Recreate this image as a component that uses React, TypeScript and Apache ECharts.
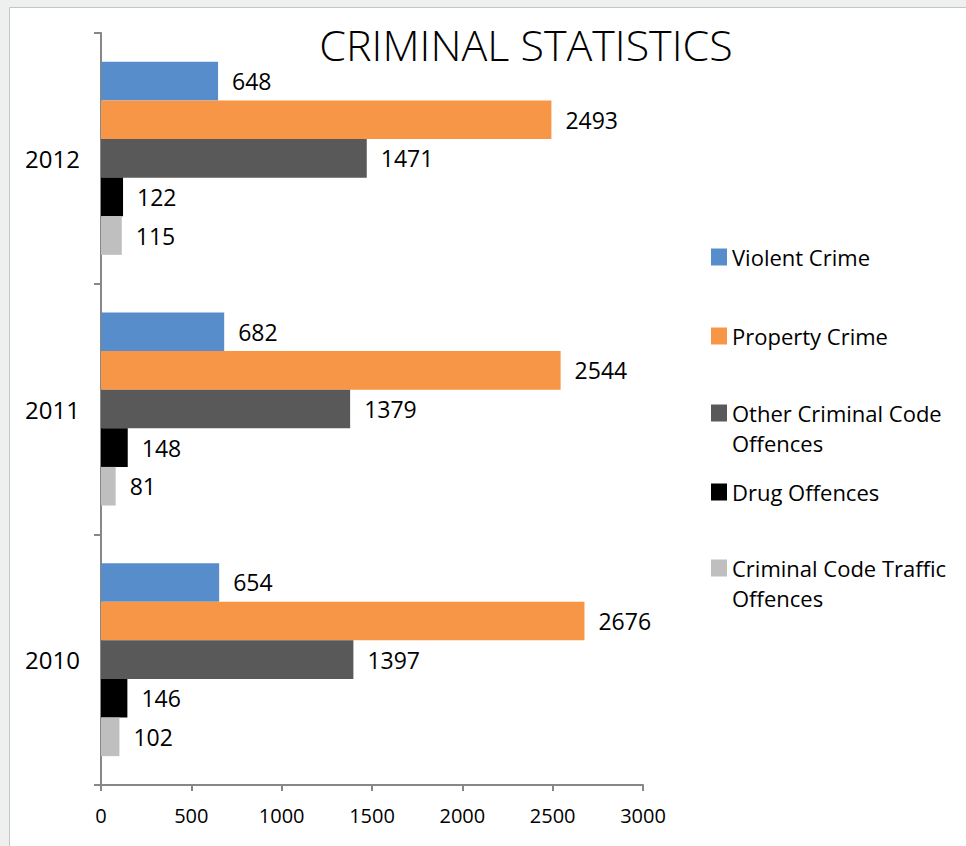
import React, { useEffect, useRef } from "react";
import * as echarts from "echarts";

const years = ["2010", "2011", "2012"];
const seriesNames = [
  "Violent Crime",
  "Property Crime",
  "Other Criminal Code Offences",
  "Drug Offences",
  "Criminal Code Traffic Offences",
];
const legendLabels = [
  "Violent Crime",
  "Property Crime",
  "\nOther Criminal Code\nOffences",
  "Drug Offences",
  "\nCriminal Code Traffic\nOffences",
];
const violentCrime = [654, 682, 648];
const propertyCrime = [2676, 2544, 2493];
const otherCriminal = [1397, 1379, 1471];
const drugOffences = [146, 148, 122];
const trafficOffences = [102, 81, 115];
const xTicks = [0, 500, 1000, 1500, 2000, 2500, 3000];

const colors = ["#588dcb", "#f79646", "#595959", "#000000", "#bfbfbf"];
const values = [violentCrime, propertyCrime, otherCriminal, drugOffences, trafficOffences];
const legendTops = [242, 321, 368, 477, 523];

const FONT = "'Open Sans', 'Noto Sans', sans-serif";

export default function App() {
  const ref = useRef<HTMLDivElement>(null);
  useEffect(() => {
    if (!ref.current) return;
    const chart = echarts.init(ref.current, undefined, { renderer: "svg" });
    const option: any = {
      animation: false,
      backgroundColor: "#eef0ef",
      title: {
        text: "CRIMINAL STATISTICS",
        left: 521,
        textAlign: "center",
        top: 18,
        textStyle: { fontFamily: FONT, fontSize: 43, fontWeight: 300, color: "#000" },
      },
      graphic: [
        {
          type: "rect",
          shape: { x: 9.5, y: 7.5, width: 980, height: 860 },
          style: { fill: "#ffffff", stroke: "#c4c6c5", lineWidth: 1 },
          z: -10,
        },
      ],
      legend: seriesNames.map((name, i) => ({
        orient: "vertical",
        left: 711,
        top: legendTops[i],
        padding: 0,
        itemGap: 0,
        itemWidth: 16,
        itemHeight: 17,
        icon: "rect",
        selectedMode: false,
        data: [name],
        formatter: () => legendLabels[i],
        textStyle: {
          fontFamily: FONT,
          fontSize: 22,
          lineHeight: 30,
          color: "#000",
        },
      })),
      grid: { left: 101, right: 323, top: 33, bottom: 61 },
      xAxis: {
        type: "value",
        min: xTicks[0],
        max: xTicks[xTicks.length - 1],
        interval: xTicks[1] - xTicks[0],
        splitLine: { show: false },
        axisLine: { show: true, lineStyle: { color: "#878787", width: 2 } },
        axisTick: { show: true, length: 6, lineStyle: { color: "#878787", width: 2 } },
        axisLabel: {
          fontFamily: FONT,
          fontSize: 20,
          color: "#000",
          margin: 20,
          formatter: (v: number) => String(v),
        },
      },
      yAxis: {
        type: "category",
        data: years,
        axisLine: { show: true, lineStyle: { color: "#878787", width: 2 } },
        axisTick: { show: true, length: 7, lineStyle: { color: "#878787", width: 2 } },
        axisLabel: { fontFamily: FONT, fontSize: 24, color: "#000", margin: 21 },
      },
      series: seriesNames.map((name, i) => ({
        name,
        type: "bar",
        data: values[i],
        barGap: "0%",
        barCategoryGap: "23%",
        itemStyle: { color: colors[i] },
        label: {
          show: true,
          position: "right",
          distance: 14,
          fontFamily: FONT,
          fontSize: 23,
          color: "#000",
        },
      })),
    };
    chart.setOption(option);
    return () => chart.dispose();
  }, []);
  return (
    <div
      ref={ref}
      style={{ position: "fixed", left: 0, top: 0, width: 966, height: 846 }}
    />
  );
}
